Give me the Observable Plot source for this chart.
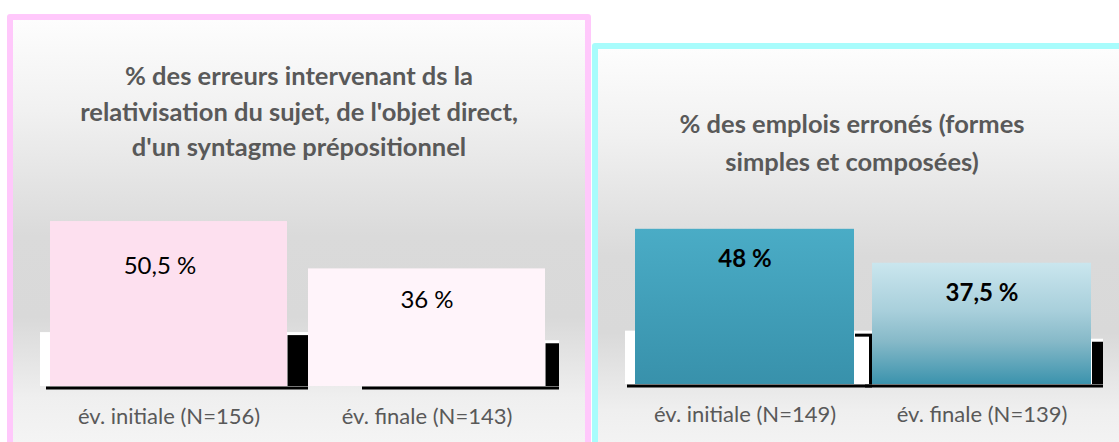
<!DOCTYPE html>
<html>
<head>
<meta charset="utf-8">
<script src="https://cdn.jsdelivr.net/npm/d3@7"></script>
<script src="https://cdn.jsdelivr.net/npm/@observablehq/plot@0.6"></script>
<style>
  html, body { margin: 0; padding: 0; background: #fff; }
  body { width: 1119px; height: 442px; overflow: hidden; position: relative; font-family: Lato, "Open Sans", sans-serif; }
  .panel { position: absolute; box-sizing: content-box; border-style: solid; border-width: 6px; border-radius: 3px;
    background: linear-gradient(to bottom, #fdfdfd 0%, #f1f1f1 20%, #dadada 48%, #d9d9d9 66%, #efefef 84%, #f7f7f7 100%); }
  #left { left: 7px; top: 14px; width: 572px; height: 450px; border-color: #ffc8fb; }
  #right { left: 592px; top: 43px; width: 600px; height: 430px; border-color: #a8fcfc; }
  .title { position: absolute; text-align: center; font-weight: bold; color: #595959; font-size: 25.5px; }
  #left .title { left: 0; width: 572px; top: 38px; line-height: 35.5px; }
  #right .title { left: 0; width: 508px; top: 55px; line-height: 38px; }
  .chart { position: absolute; }
  #left .chart { left: 0; top: 170px; }
  #right .chart { left: 0; top: 141px; }
</style>
</head>
<body>
<div class="panel" id="left"><div class="title"></div><div class="chart"></div></div>
<div class="panel" id="right"><div class="title"></div><div class="chart"></div></div>
<script>
// ---- data ----
const leftTitle = ["% des erreurs intervenant ds la", "relativisation du sujet, de l'objet direct,", "d'un syntagme prépositionnel"];
const leftCategories = ["év. initiale (N=156)", "év. finale (N=143)"];
const leftValues = [50.5, 36];
const leftValueLabels = ["50,5 %", "36 %"];

const rightTitle = ["% des emplois erronés (formes", "simples et composées)"];
const rightCategories = ["év. initiale (N=149)", "év. finale (N=139)"];
const rightValues = [48, 37.5];
const rightValueLabels = ["48 %", "37,5 %"];

// ---- drawing ----
function drawPanel(sel, opts) {
  const panel = document.querySelector(sel);
  panel.querySelector(".title").innerHTML = opts.title.map(t => t.replace(/&/g, "&amp;").replace(/</g, "&lt;")).join("<br>");
  const data = opts.categories.map((c, i) => ({cat: c, value: opts.values[i], label: opts.labels[i], i}));
  const W = opts.width, H = opts.height, mL = opts.marginLeft, mR = opts.marginRight, p = opts.padding;
  const step = (W - mL - mR) / (data.length - p);
  const bw = step * (1 - p);
  const floorDepth = [16.5, 14];
  const ext = opts.ext;
  const marks = [];
  data.forEach((d, i) => {
    const one = [d];
    marks.push(Plot.barY(one, {x: "cat", y: () => floorDepth[i], fill: "white", insetLeft: i === 0 ? -10 : 0, insetRight: -ext[i]}));
    marks.push(Plot.barY(one, {x: "cat", y: () => floorDepth[i], fill: "black", insetTop: 3, insetLeft: bw, insetRight: -ext[i]}));
    if (opts.hollowFirst && i === 0) {
      marks.push(Plot.barY(one, {x: "cat", y: () => floorDepth[i], fill: "white", insetTop: 6, insetBottom: 0, insetLeft: bw, insetRight: -ext[i] + 3}));
    }
  });
  data.forEach((d, i) => {
    marks.push(Plot.barY([d], {x: "cat", y: "value", fill: opts.fills[i]}));
  });
  data.forEach((d, i) => {
    marks.push(Plot.tickY([d], {x: "cat", y: () => 0, stroke: "black", strokeWidth: 3, dy: 1.5,
      insetLeft: opts.baseInsetLeft[i], insetRight: -ext[i]}));
  });
  data.forEach((d, i) => {
    marks.push(Plot.text([d], {x: "cat", y: "value", text: "label", dy: opts.labelDy[i], dx: opts.labelDx[i], fill: "#000",
      fontSize: opts.valueFontSize, fontWeight: opts.valueWeight, lineAnchor: "middle"}));
  });
  marks.push(Plot.axisX({tickSize: 0, tickPadding: 22, fontSize: 22, fill: "#595959", label: null}));

  const svg = Plot.plot({
    width: W, height: H,
    marginLeft: mL, marginRight: mR, marginTop: 0, marginBottom: opts.marginBottom,
    style: {background: "transparent", fontFamily: "Lato, 'Open Sans', sans-serif", color: "#595959", overflow: "visible"},
    x: {domain: opts.categories, paddingInner: p, paddingOuter: 0, label: null, axis: null},
    y: {domain: [0, 60], axis: null},
    marks
  });
  if (opts.defs) {
    const defs = document.createElementNS("http://www.w3.org/2000/svg", "defs");
    defs.innerHTML = opts.defs;
    svg.insertBefore(defs, svg.firstChild);
  }
  panel.querySelector(".chart").appendChild(svg);
}

drawPanel("#left", {
  title: leftTitle, categories: leftCategories, values: leftValues, labels: leftValueLabels,
  width: 572, height: 250, marginLeft: 37, marginRight: 39, marginBottom: 54, padding: 0.081,
  fills: ["#fde0ef", "#fff4fa"], ext: [21, 14], baseInsetLeft: [-4, 54],
  labelDy: [45, 31], labelDx: [-9, 0], valueFontSize: 24, valueWeight: "normal"
});

drawPanel("#right", {
  title: rightTitle, categories: rightCategories, values: rightValues, labels: rightValueLabels,
  width: 534, height: 250, marginLeft: 36, marginRight: 40, marginBottom: 56, padding: 0.0756,
  fills: ["url(#gTeal)", "url(#gLight)"], ext: [18, 12], baseInsetLeft: [-8, -7],
  labelDy: [30, 30], labelDx: [0, 0], valueFontSize: 24, valueWeight: "bold",
  hollowFirst: true,
  defs: `<linearGradient id="gTeal" x1="0" y1="0" x2="0" y2="1">
      <stop offset="0" stop-color="#4aacc6"/><stop offset="1" stop-color="#3891ab"/></linearGradient>
    <linearGradient id="gLight" x1="0" y1="0" x2="0" y2="1">
      <stop offset="0" stop-color="#cae6ee"/><stop offset="0.4" stop-color="#a8cfdb"/>
      <stop offset="0.65" stop-color="#86b9c8"/><stop offset="1" stop-color="#3b93ad"/></linearGradient>`
});
</script>
</body>
</html>
